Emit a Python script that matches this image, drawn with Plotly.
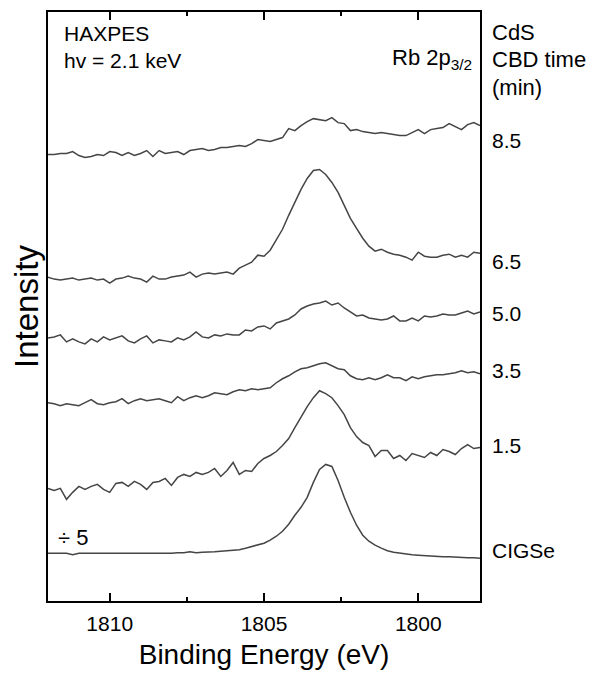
import plotly.graph_objects as go

# Binding energy grid (eV), 0.2 eV steps from 1812 to 1798
energy = [round(1812 - 0.2 * i, 1) for i in range(71)]

# Intensities (arb. units, stacked with offsets as in the figure)
cigse = [48, 48, 47.5, 48, 46.5, 48, 48, 48, 47.5, 48,
         48, 47.5, 48, 48, 47.5, 48, 48, 47.5, 48, 48,
         48, 48.5, 48.5, 49.5, 48.5, 49, 49, 49.5, 50, 50.5,
         51, 51.5, 53, 54.5, 56, 58, 61, 65, 70, 77,
         86, 94, 104, 119, 132, 137, 135, 121, 104, 89,
         76, 66, 60, 56, 53, 50.5, 49, 48, 47, 46.5,
         46, 45.5, 45.5, 45, 44.5, 44.5, 44, 44, 43.5, 43.5, 43]

t15 = [113, 111, 113, 102, 109, 115, 112, 115, 117, 112,
       109, 118, 119, 115, 120, 117, 112, 119, 120, 123,
       116, 124, 127, 125, 129, 127, 129, 133, 125, 131,
       139, 127, 131, 130, 138, 143, 146, 150, 156, 163,
       174, 185, 195, 204, 211, 208, 204, 196, 187, 174,
       165, 159, 156, 145, 151, 151, 143, 146, 141, 148,
       146, 144, 149, 146, 152, 150, 147, 153, 157, 153, 154]

t35 = [199, 198, 196, 198, 197, 196, 199, 202, 198, 197,
       199, 200, 203, 198, 201, 203, 201, 202, 203, 201,
       199, 205, 201, 204, 206, 204, 206, 209, 208, 207,
       210, 212, 211, 213, 212, 213, 214, 219, 223, 226,
       230, 233, 234, 236, 238, 239, 236, 233, 232, 226,
       223, 222, 224, 222, 224, 227, 224, 224, 221, 225,
       223, 225, 226, 227, 227, 228, 229, 231, 229, 230, 228]

t50 = [264, 265, 267, 260, 263, 260, 258, 263, 260, 265,
       262, 264, 266, 261, 259, 263, 266, 259, 262, 261,
       260, 264, 262, 265, 270, 265, 264, 267, 266, 268,
       267, 267, 272, 271, 275, 276, 273, 279, 281, 283,
       287, 293, 296, 298, 299, 301, 297, 299, 294, 290,
       286, 287, 284, 283, 282, 283, 286, 281, 281, 284,
       281, 286, 285, 286, 288, 287, 287, 289, 291, 288, 290]

t65 = [325, 323, 322, 323, 324, 322, 323, 324, 322, 323,
       319, 323, 324, 326, 324, 323, 320, 326, 323, 323,
       325, 326, 327, 330, 325, 328, 329, 328, 329, 330,
       328, 334, 337, 340, 347, 346, 352, 362, 373, 387,
       400, 413, 424, 432, 433, 428, 420, 410, 397, 384,
       374, 364, 356, 351, 353, 350, 348, 347, 345, 342,
       350, 346, 345, 345, 347, 348, 345, 347, 345, 350, 349]

t85 = [448, 448, 449, 449, 451, 447, 445, 446, 448, 447,
       451, 450, 447, 450, 447, 449, 452, 446, 452, 449,
       450, 451, 448, 452, 453, 454, 452, 453, 455, 455,
       456, 457, 456, 459, 463, 462, 461, 463, 465, 474,
       472, 477, 481, 484, 483, 482, 485, 480, 479, 472,
       473, 471, 470, 469, 470, 469, 468, 467, 467, 470,
       473, 469, 473, 474, 475, 479, 476, 473, 478, 480, 477]

series = [cigse, t15, t35, t50, t65, t85]
labels = ["CIGSe", "1.5", "3.5", "5.0", "6.5", "8.5"]
label_pos = [51, 156, 231, 288, 341, 462]

FONT = "Liberation Sans, Arial, sans-serif"
LINE = "#454545"

fig = go.Figure()
for s in series:
    fig.add_trace(go.Scatter(x=energy, y=s, mode="lines",
                             line=dict(color=LINE, width=1.5),
                             showlegend=False, hoverinfo="skip"))

annotations = []
for lab, yp in zip(labels, label_pos):
    annotations.append(dict(text=lab, x=1.023, xref="paper", y=yp, yref="y",
                            xanchor="left", yanchor="middle", showarrow=False,
                            font=dict(size=21, color="black", family=FONT)))

def ptxt(text, x, y, xa="left", size=22):
    annotations.append(dict(text=text, x=x, xref="paper", y=y, yref="paper",
                            xanchor=xa, yanchor="middle", showarrow=False,
                            align="left",
                            font=dict(size=size, color="black", family=FONT)))

ptxt("HAXPES<br>hv = 2.1 keV", 0.032, 0.940, size=21)
ptxt("Rb 2p<sub>3/2</sub>", 0.986, 0.920, xa="right")
ptxt("CdS", 1.023, 0.966)
ptxt("CBD time", 1.023, 0.919)
ptxt("(min)", 1.023, 0.872)
ptxt("÷ 5", 0.018, 0.107)

fig.update_layout(
    width=594, height=666,
    margin=dict(l=40, r=122, t=2, b=73),
    paper_bgcolor="white", plot_bgcolor="white",
    font=dict(family=FONT, color="black"),
    annotations=annotations,
    xaxis=dict(range=[1812, 1798], tickvals=[1810, 1805, 1800],
               ticks="inside", ticklen=8, tickwidth=2, tickcolor="black",
               minor=dict(dtick=2.5, tick0=1800, ticks="inside", ticklen=4,
                          tickwidth=2, tickcolor="black"),
               showline=True, linecolor="black", linewidth=2, mirror="ticks",
               showgrid=False, zeroline=False,
               tickfont=dict(size=21, family=FONT, color="black"),
               ticklabelstandoff=3,
               title=dict(text="Binding Energy (eV)",
                          font=dict(size=28, family=FONT, color="black"),
                          standoff=10)),
    yaxis=dict(range=[0, 591], showticklabels=False, ticks="",
               showline=True, linecolor="black", linewidth=2, mirror=True,
               showgrid=False, zeroline=False,
               title=dict(text="Intensity",
                          font=dict(size=33, family=FONT, color="black"),
                          standoff=2)),
)

fig.write_html("out.html")
